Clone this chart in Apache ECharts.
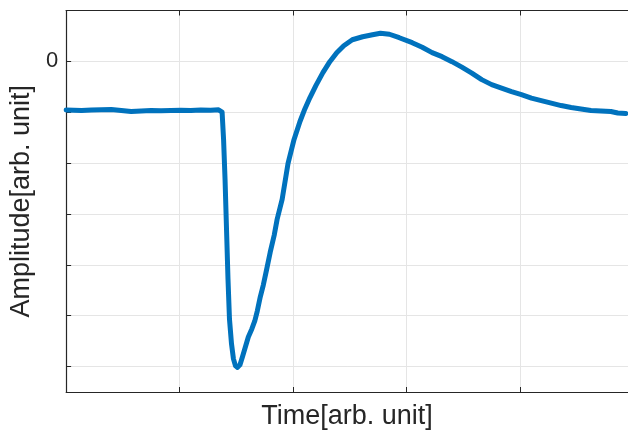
<!DOCTYPE html>
<html>
<head>
    <meta charset="UTF-8">
    <title>Amplitude vs Time</title>
    <style type="text/css">
        * { margin: 0; padding: 0; }
        html, body { width: 100%; height: 100%; background: #fff; }
        #chart { width: 628px; height: 435px; }
    </style>
</head>
<body>
    <div id="chart"></div>
    <script src="https://cdn.jsdelivr.net/npm/echarts@6/dist/echarts.min.js"></script>
    <script>
        // time samples [arb. unit]
        const times = [
            0, 0.136, 0.223, 0.311, 0.398, 0.486, 0.573, 0.661, 0.748, 0.836,
            0.923, 1.010, 1.098, 1.186, 1.273, 1.343, 1.374, 1.387, 1.400, 1.413,
            1.426, 1.439, 1.457, 1.474, 1.492, 1.510, 1.531, 1.553, 1.579, 1.605,
            1.636, 1.662, 1.684, 1.710, 1.737, 1.767, 1.798, 1.833, 1.859, 1.903,
            1.955, 2.008, 2.060, 2.104, 2.148, 2.200, 2.262, 2.323, 2.384, 2.446,
            2.521, 2.612, 2.699, 2.769, 2.848, 2.935, 3.049, 3.137, 3.224, 3.312,
            3.399, 3.486, 3.574, 3.661, 3.749, 3.836, 3.924, 4.011, 4.099, 4.186,
            4.274, 4.361, 4.449, 4.536, 4.624, 4.711, 4.799, 4.860, 4.930
        ];
        // amplitude samples [arb. unit]
        const amplitudes = [
            -0.957, -0.967, -0.957, -0.953, -0.947, -0.967, -0.986, -0.976, -0.967, -0.973,
            -0.967, -0.963, -0.967, -0.957, -0.963, -0.953, -0.996, -1.535, -2.320, -3.300,
            -4.280, -5.065, -5.555, -5.849, -5.986, -6.016, -5.967, -5.810, -5.614, -5.418,
            -5.261, -5.104, -4.908, -4.633, -4.398, -4.084, -3.751, -3.418, -3.104, -2.712,
            -2.006, -1.535, -1.182, -0.930, -0.712, -0.476, -0.222, -0.006, 0.171, 0.308,
            0.425, 0.484, 0.524, 0.553, 0.533, 0.465, 0.367, 0.278, 0.171, 0.092,
            -0.006, -0.114, -0.231, -0.359, -0.457, -0.525, -0.594, -0.653, -0.722, -0.771,
            -0.820, -0.869, -0.908, -0.937, -0.967, -0.976, -0.986, -1.016, -1.025
        ];
        const yTicks = [-6, -5, -4, -3, -2, -1, 0];
        const yLabels = [0];

        const axisColor = '#262626';
        const gridColor = '#e5e5e5';
        const font = 'Liberation Sans, Arial, Helvetica, sans-serif';

        const chart = echarts.init(document.getElementById('chart'));
        const points = times.map((t, i) => [t, amplitudes[i]]);

        chart.setOption({
            animation: false,
            backgroundColor: '#ffffff',
            grid: { left: 64.5, top: 10.5, right: -2, bottom: 42 },
            xAxis: [
                {
                    type: 'value',
                    position: 'bottom',
                    min: 0,
                    max: 4.95,
                    interval: 1,
                    name: 'Time[arb. unit]',
                    nameLocation: 'middle',
                    nameGap: 11,
                    nameTextStyle: { fontFamily: font, fontSize: 27, color: axisColor, verticalAlign: 'top' },
                    axisLine: { show: true, onZero: false, lineStyle: { color: axisColor, width: 1.2 } },
                    axisTick: { show: true, inside: true, length: 5, lineStyle: { color: axisColor } },
                    axisLabel: { show: false },
                    splitLine: { show: true, lineStyle: { color: gridColor, width: 1 } }
                },
                {
                    type: 'value',
                    position: 'top',
                    min: 0,
                    max: 4.95,
                    interval: 1,
                    axisLine: { show: true, onZero: false, lineStyle: { color: axisColor, width: 1.2 } },
                    axisTick: { show: true, inside: true, length: 5, lineStyle: { color: axisColor } },
                    axisLabel: { show: false },
                    splitLine: { show: false }
                }
            ],
            yAxis: {
                type: 'value',
                min: -6.5,
                max: 1,
                name: 'Amplitude[arb. unit]',
                nameLocation: 'middle',
                nameRotate: 90,
                nameGap: 19,
                nameTextStyle: { fontFamily: font, fontSize: 27, color: axisColor },
                axisLine: { show: true, onZero: false, lineStyle: { color: axisColor, width: 1.2 } },
                axisTick: { show: true, inside: true, length: 5, customValues: yTicks, lineStyle: { color: axisColor } },
                axisLabel: {
                    show: true,
                    customValues: yLabels,
                    margin: 8,
                    fontFamily: font,
                    fontSize: 22,
                    color: axisColor
                },
                splitLine: { show: true, lineStyle: { color: gridColor, width: 1 } }
            },
            series: [
                {
                    type: 'line',
                    data: points,
                    showSymbol: false,
                    lineStyle: { color: '#0072BD', width: 5, join: 'round', cap: 'round' },
                    z: 3
                }
            ]
        });
    </script>
</body>
</html>
